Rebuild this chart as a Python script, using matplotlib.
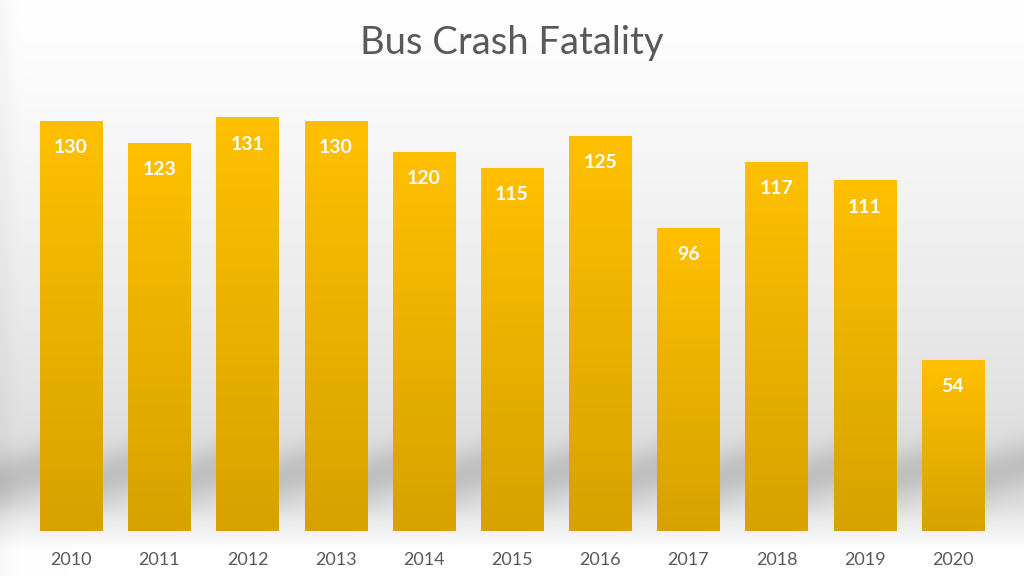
import numpy as np
import matplotlib.pyplot as plt
from matplotlib.colors import LinearSegmentedColormap

years = ['2010', '2011', '2012', '2013', '2014', '2015', '2016', '2017', '2018', '2019', '2020']
fatalities = [130, 123, 131, 130, 120, 115, 125, 96, 117, 111, 54]

plt.rcParams['font.family'] = ['Lato', 'DejaVu Sans']

fig = plt.figure(figsize=(10.24, 5.76), dpi=100)

# background: white top fading to light gray, shadow band near bottom, white strip under bars
bg = fig.add_axes([0, 0, 1, 1])
h, w = 576, 1024
yy, xx = np.mgrid[0:h, 0:w]
base = 1.0 - 0.12 * np.clip(yy / 420.0, 0, 1) ** 1.2
skew = (xx % 88) / 88.0
band = 0.13 * np.exp(-((yy - 468 + 25 * (skew - 0.5)) / 26.0) ** 2)
base = base - band
fade = np.clip((yy - 505) / 45.0, 0, 1)
base = base * (1 - fade) + 1.0 * fade
edge = 0.03 * np.exp(-(xx / 12.0) ** 2)
base = base - edge
bg.imshow(np.dstack([base] * 3), extent=[0, 1, 0, 1], aspect='auto', origin='upper')
bg.axis('off')

ax = fig.add_axes([27 / w, (h - 531) / h, (997 - 27) / w, (531 - 89.5) / h])
ax.patch.set_alpha(0)

cmap = LinearSegmentedColormap.from_list('gold', ['#d7a200', '#ffc000'])
grad = np.linspace(0, 1, 256).reshape(-1, 1)
bars = ax.bar(range(len(years)), fatalities, width=0.705, color='none', edgecolor='none')
for b, v in zip(bars, fatalities):
    x0 = b.get_x()
    ax.imshow(grad, extent=[x0, x0 + b.get_width(), 0, v], origin='lower',
              cmap=cmap, aspect='auto', zorder=2)
    ax.text(b.get_x() + b.get_width() / 2, v - 8.3, str(v), ha='center', va='center',
            color='white', fontsize=14, fontweight='bold', zorder=3)

ax.set_xlim(-0.5, len(years) - 0.5)
ax.set_ylim(0, 140)
ax.set_xticks(range(len(years)))
ax.set_xticklabels(years, color='#595959', fontsize=13)
ax.tick_params(axis='x', length=0, pad=15)
ax.set_yticks([])
for s in ax.spines.values():
    s.set_visible(False)

fig.text(0.5, 1 - 43 / h, 'Bus Crash Fatality', ha='center', va='center',
         color='#595959', fontsize=27.5)

fig.savefig('out.png', dpi=100)
